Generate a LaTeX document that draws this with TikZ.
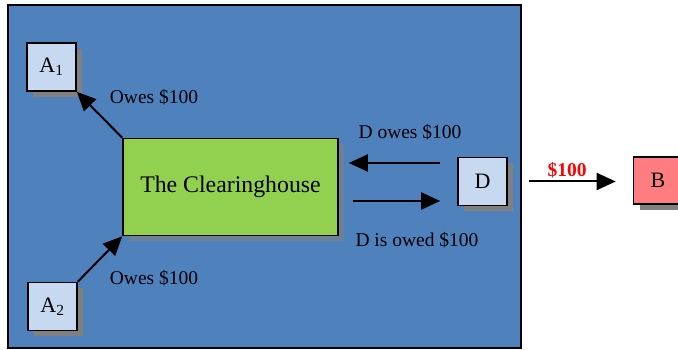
\documentclass[tikz,border=0pt]{standalone}
\usepackage{fontspec}
\setmainfont{Liberation Serif}
\usetikzlibrary{arrows.meta,shadows}
\definecolor{panelblue}{HTML}{4F81BD}
\definecolor{boxblue}{HTML}{C6D9F1}
\definecolor{housegreen}{HTML}{92D050}
\definecolor{bankred}{HTML}{FF7C80}
\tikzset{
  party/.style={draw=black,line width=1.6pt,fill=boxblue,minimum width=49pt,minimum height=48pt,inner sep=0pt,
    drop shadow={shadow xshift=6pt,shadow yshift=-6pt,fill=gray,opacity=1},font=\fontsize{22}{26}\selectfont},
  flow/.style={line width=2pt,-{Triangle[length=19pt,width=17pt]}},
  lbl/.style={font=\fontsize{19.5}{23}\selectfont,inner sep=0pt}
}
\begin{document}
\begin{tikzpicture}[x=1pt,y=1pt]
  \useasboundingbox (0,0) rectangle (678,350);
  % the panel
  \draw[line width=1.6pt,fill=panelblue] (8,2) rectangle (521,345);
  \node[draw=black,line width=1.6pt,fill=housegreen,minimum width=215pt,minimum height=97pt,
    drop shadow={shadow xshift=6pt,shadow yshift=-6pt,fill=gray,opacity=0.6},
    font=\fontsize{23.8}{28}\selectfont] (ch) at (230.5,163) {The Clearinghouse};
  \node[party] (a1) at (51.5,283) {A\textsubscript{1}};
  \node[party] (a2) at (52.5,43.5) {A\textsubscript{2}};
  \node[party] (d) at (482.5,168.5) {D};
  \node[party,fill=bankred,minimum width=49pt,minimum height=47pt] (b) at (658,169.5) {B};
  % flows
  \draw[flow] (ch.north west) -- (a1.south east);
  \draw[flow] (a2.north east) -- (ch.south west);
  \draw[flow] ([shift={(-17,18.5)}]d.west) -- ([shift={(10,24)}]ch.east);
  \draw[flow] ([shift={(14,-14)}]ch.east) -- ([shift={(-17,-19.5)}]d.west);
  \draw[flow,shorten <=21pt,shorten >=17pt] (d.east) -- (b.west |- d.east);
  % labels
  \node[lbl] (owes1) at (154,253) {Owes \$100};
  \node[lbl] (owes2) at (154,72) {Owes \$100};
  \node[lbl] (downs) at (410,218) {D owes \$100};
  \node[lbl] (dowed) at (417,110) {D is owed \$100};
  \node[lbl,text=red,font=\fontsize{19.5}{23}\selectfont\bfseries] (pay) at (567,180) {\$100};
\end{tikzpicture}
\end{document}
